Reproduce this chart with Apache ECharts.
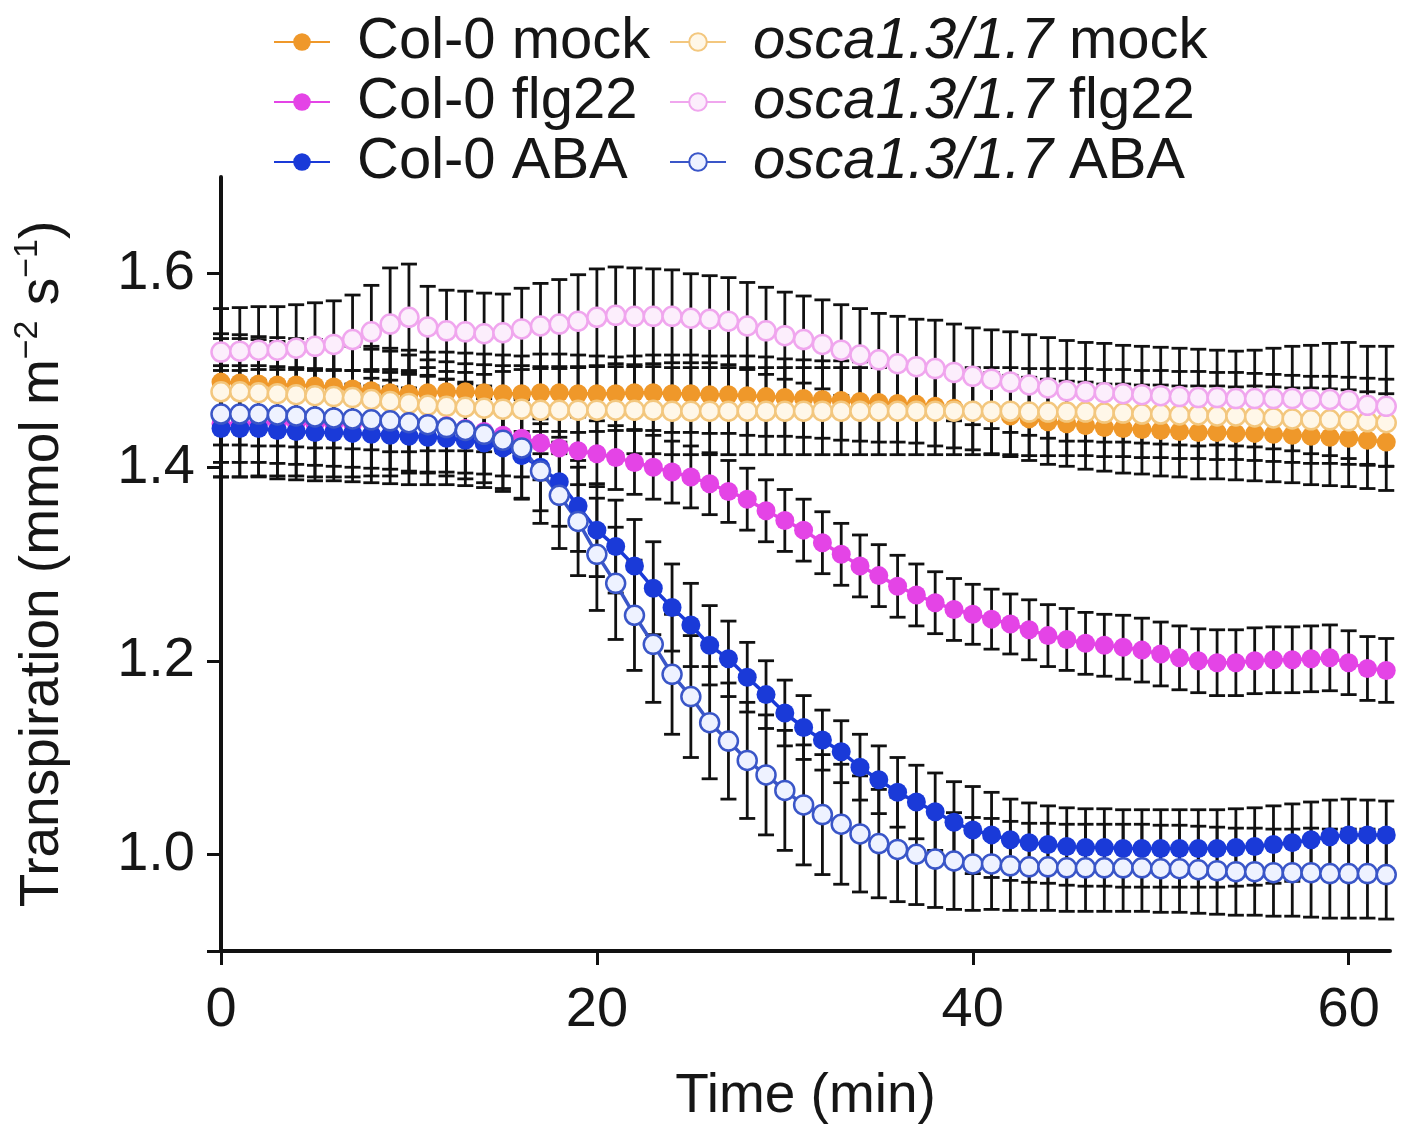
<!DOCTYPE html>
<html>
<head>
<meta charset="utf-8">
<title>Transpiration</title>
<script src="https://cdn.jsdelivr.net/npm/echarts@6/dist/echarts.min.js"></script>
<style>
  html, body { margin: 0; padding: 0; background: #fff; }
  #chart { width: 1410px; height: 1129px; }
</style>
</head>
<body>
<div id="chart"></div>
<script>
// 时间 (min)
const times = [0, 1, 2, 3, 4, 5, 6, 7, 8, 9, 10, 11, 12, 13, 14, 15, 16, 17, 18, 19, 20,
  21, 22, 23, 24, 25, 26, 27, 28, 29, 30, 31, 32, 33, 34, 35, 36, 37, 38, 39, 40,
  41, 42, 43, 44, 45, 46, 47, 48, 49, 50, 51, 52, 53, 54, 55, 56, 57, 58, 59, 60, 61, 62];

const xTicks = [0, 20, 40, 60];
const yTicks = [0.9, 1.0, 1.2, 1.4, 1.6];
const yLabels = [1.0, 1.2, 1.4, 1.6];

// Col-0 mock
const c0Mock = [1.488, 1.487, 1.486, 1.485, 1.485, 1.484, 1.483, 1.481, 1.479, 1.477,
  1.476, 1.477, 1.478, 1.478, 1.477, 1.476, 1.476, 1.477, 1.477, 1.476,
  1.476, 1.476, 1.477, 1.477, 1.476, 1.476, 1.475, 1.475, 1.474, 1.473,
  1.472, 1.471, 1.470, 1.469, 1.468, 1.467, 1.466, 1.465, 1.463, 1.461,
  1.459, 1.456, 1.453, 1.450, 1.447, 1.445, 1.443, 1.441, 1.440, 1.439,
  1.438, 1.437, 1.436, 1.436, 1.435, 1.435, 1.434, 1.433, 1.432, 1.431,
  1.430, 1.428, 1.426];
const c0MockErr = [0.050, 0.050, 0.049, 0.049, 0.048, 0.048, 0.047, 0.047, 0.046, 0.046,
  0.045, 0.042, 0.041, 0.040, 0.040, 0.040, 0.039, 0.040, 0.040, 0.040,
  0.039, 0.038, 0.038, 0.039, 0.040, 0.040, 0.040, 0.040, 0.041, 0.041,
  0.040, 0.040, 0.040, 0.041, 0.041, 0.041, 0.040, 0.040, 0.041, 0.041,
  0.041, 0.042, 0.042, 0.043, 0.044, 0.044, 0.045, 0.045, 0.046, 0.046,
  0.047, 0.047, 0.048, 0.048, 0.048, 0.049, 0.049, 0.049, 0.050, 0.050,
  0.050, 0.050, 0.050];

// osca1.3/1.7 mock
const osMock = [1.478, 1.478, 1.477, 1.476, 1.475, 1.474, 1.473, 1.472, 1.470, 1.468,
  1.466, 1.464, 1.463, 1.462, 1.461, 1.460, 1.460, 1.459, 1.459, 1.459,
  1.459, 1.459, 1.459, 1.459, 1.458, 1.458, 1.458, 1.458, 1.458, 1.458,
  1.458, 1.458, 1.458, 1.458, 1.458, 1.458, 1.458, 1.458, 1.458, 1.458,
  1.458, 1.458, 1.458, 1.457, 1.457, 1.457, 1.457, 1.456, 1.456, 1.455,
  1.455, 1.454, 1.454, 1.453, 1.453, 1.452, 1.451, 1.450, 1.449, 1.449,
  1.448, 1.447, 1.446];
const osMockErr = [0.055, 0.055, 0.055, 0.054, 0.054, 0.054, 0.053, 0.053, 0.052, 0.052,
  0.050, 0.047, 0.046, 0.045, 0.045, 0.045, 0.045, 0.045, 0.045, 0.045,
  0.045, 0.045, 0.045, 0.045, 0.045, 0.045, 0.045, 0.045, 0.045, 0.045,
  0.045, 0.045, 0.045, 0.045, 0.045, 0.045, 0.045, 0.045, 0.045, 0.045,
  0.045, 0.045, 0.045, 0.045, 0.045, 0.045, 0.045, 0.045, 0.045, 0.045,
  0.045, 0.045, 0.045, 0.045, 0.045, 0.045, 0.045, 0.045, 0.045, 0.045,
  0.045, 0.045, 0.045];

// Col-0 flg22
const c0Flg = [1.445, 1.445, 1.446, 1.446, 1.446, 1.445, 1.445, 1.445, 1.446, 1.446,
  1.446, 1.445, 1.443, 1.440, 1.437, 1.433, 1.430, 1.425, 1.420, 1.417,
  1.414, 1.410, 1.405, 1.400, 1.395, 1.390, 1.383, 1.375, 1.367, 1.355,
  1.345, 1.335, 1.322, 1.310, 1.298, 1.288, 1.277, 1.268, 1.260, 1.253,
  1.248, 1.243, 1.238, 1.232, 1.226, 1.222, 1.218, 1.216, 1.214, 1.211,
  1.207, 1.203, 1.200, 1.198, 1.198, 1.200, 1.201, 1.201, 1.202, 1.203,
  1.198, 1.192, 1.190];
const c0FlgErr = [0.055, 0.055, 0.055, 0.055, 0.055, 0.055, 0.055, 0.055, 0.055, 0.055,
  0.052, 0.050, 0.048, 0.046, 0.044, 0.042, 0.040, 0.038, 0.036, 0.035,
  0.034, 0.033, 0.033, 0.033, 0.032, 0.032, 0.032, 0.032, 0.032, 0.032,
  0.032, 0.032, 0.032, 0.032, 0.032, 0.032, 0.032, 0.032, 0.032, 0.032,
  0.031, 0.031, 0.031, 0.031, 0.032, 0.032, 0.032, 0.032, 0.033, 0.033,
  0.033, 0.033, 0.033, 0.034, 0.034, 0.034, 0.034, 0.034, 0.034, 0.034,
  0.033, 0.033, 0.033];

// osca1.3/1.7 flg22
const osFlg = [1.519, 1.520, 1.521, 1.521, 1.523, 1.525, 1.527, 1.532, 1.540, 1.548,
  1.555, 1.545, 1.541, 1.540, 1.538, 1.539, 1.543, 1.546, 1.548, 1.551,
  1.555, 1.557, 1.556, 1.556, 1.556, 1.554, 1.553, 1.551, 1.546, 1.541,
  1.536, 1.532, 1.527, 1.521, 1.516, 1.511, 1.507, 1.504, 1.502, 1.498,
  1.494, 1.491, 1.488, 1.485, 1.482, 1.479, 1.478, 1.477, 1.476, 1.475,
  1.474, 1.473, 1.472, 1.472, 1.471, 1.471, 1.471, 1.471, 1.470, 1.470,
  1.469, 1.464, 1.463];
const osFlgErr = [0.045, 0.045, 0.045, 0.045, 0.045, 0.045, 0.045, 0.046, 0.048, 0.058,
  0.055, 0.042, 0.042, 0.042, 0.042, 0.040, 0.042, 0.044, 0.046, 0.048,
  0.050, 0.050, 0.050, 0.049, 0.048, 0.046, 0.045, 0.045, 0.045, 0.045,
  0.045, 0.045, 0.046, 0.047, 0.048, 0.048, 0.049, 0.049, 0.050, 0.050,
  0.050, 0.051, 0.052, 0.052, 0.052, 0.052, 0.051, 0.051, 0.050, 0.050,
  0.050, 0.050, 0.050, 0.049, 0.049, 0.050, 0.052, 0.054, 0.056, 0.058,
  0.060, 0.061, 0.062];

// Col-0 ABA
const c0Aba = [1.440, 1.440, 1.440, 1.438, 1.437, 1.436, 1.436, 1.435, 1.434, 1.433,
  1.432, 1.431, 1.430, 1.428, 1.425, 1.420, 1.412, 1.400, 1.385, 1.360,
  1.335, 1.318, 1.298, 1.275, 1.255, 1.237, 1.216, 1.202, 1.183, 1.165,
  1.146, 1.131, 1.118, 1.106, 1.090, 1.077, 1.064, 1.054, 1.044, 1.033,
  1.025, 1.020, 1.015, 1.012, 1.010, 1.008, 1.007, 1.007, 1.006, 1.006,
  1.006, 1.006, 1.006, 1.006, 1.007, 1.008, 1.010, 1.012, 1.015, 1.018,
  1.020, 1.020, 1.020];
const c0AbaErr = [0.050, 0.050, 0.050, 0.050, 0.050, 0.050, 0.050, 0.050, 0.050, 0.050,
  0.050, 0.049, 0.048, 0.047, 0.046, 0.045, 0.045, 0.045, 0.046, 0.047,
  0.048, 0.048, 0.048, 0.048, 0.045, 0.043, 0.041, 0.039, 0.036, 0.035,
  0.034, 0.033, 0.031, 0.032, 0.034, 0.035, 0.036, 0.038, 0.040, 0.042,
  0.045, 0.044, 0.042, 0.041, 0.040, 0.040, 0.040, 0.040, 0.040, 0.040,
  0.040, 0.040, 0.040, 0.040, 0.040, 0.040, 0.040, 0.040, 0.039, 0.038,
  0.037, 0.036, 0.035];

// osca1.3/1.7 ABA
const osAba = [1.455, 1.455, 1.455, 1.454, 1.453, 1.452, 1.451, 1.450, 1.449, 1.448,
  1.446, 1.444, 1.441, 1.438, 1.434, 1.428, 1.420, 1.396, 1.371, 1.344,
  1.310, 1.280, 1.247, 1.217, 1.186, 1.163, 1.136, 1.117, 1.097, 1.082,
  1.066, 1.051, 1.041, 1.031, 1.021, 1.011, 1.005, 1.000, 0.995, 0.993,
  0.990, 0.990, 0.988, 0.987, 0.987, 0.986, 0.986, 0.986, 0.986, 0.986,
  0.985, 0.985, 0.984, 0.983, 0.982, 0.982, 0.981, 0.981, 0.981, 0.980,
  0.980, 0.980, 0.979];
const osAbaErr = [0.050, 0.050, 0.050, 0.050, 0.050, 0.050, 0.050, 0.050, 0.050, 0.050,
  0.050, 0.050, 0.050, 0.050, 0.050, 0.050, 0.052, 0.054, 0.055, 0.056,
  0.058, 0.058, 0.057, 0.060, 0.062, 0.063, 0.058, 0.060, 0.060, 0.062,
  0.062, 0.062, 0.062, 0.062, 0.060, 0.056, 0.054, 0.052, 0.050, 0.050,
  0.048, 0.047, 0.046, 0.045, 0.045, 0.045, 0.045, 0.045, 0.045, 0.045,
  0.045, 0.045, 0.045, 0.045, 0.045, 0.045, 0.045, 0.045, 0.046, 0.046,
  0.046, 0.046, 0.046];

const FONT = '"Liberation Sans", Arial, Helvetica, sans-serif';
const INK = '#161616';

// 误差线 (自定义系列)
function errorBars(key, values, errs) {
  return {
    name: key + '-sem',
    type: 'custom',
    silent: true,
    data: times.map((t, i) => [t, values[i] - errs[i], values[i] + errs[i]]),
    encode: { x: 0, y: [1, 2] },
    renderItem(params, api) {
      const lo = api.coord([api.value(0), api.value(1)]);
      const hi = api.coord([api.value(0), api.value(2)]);
      const w = 8;
      const style = { stroke: '#111', lineWidth: 2.8 };
      return {
        type: 'group',
        children: [
          { type: 'line', shape: { x1: hi[0], y1: hi[1], x2: lo[0], y2: lo[1] }, style },
          { type: 'line', shape: { x1: hi[0] - w, y1: hi[1], x2: hi[0] + w, y2: hi[1] }, style },
          { type: 'line', shape: { x1: lo[0] - w, y1: lo[1], x2: lo[0] + w, y2: lo[1] }, style },
        ],
      };
    },
  };
}

function lineSeries(name, values, color, fill) {
  const open = fill !== color;
  return {
    name,
    type: 'line',
    data: times.map((t, i) => [t, values[i]]),
    symbol: 'circle',
    symbolSize: 19,
    showAllSymbol: true,
    clip: false,
    lineStyle: { color, width: 3.5 },
    itemStyle: { color: fill, borderColor: color, borderWidth: open ? 2.5 : 0 },
  };
}

const groups = [
  ['Col-0 mock', c0Mock, c0MockErr, '#EF982A', '#EF982A'],
  ['osca1.3/1.7 mock', osMock, osMockErr, '#F3C77E', '#FFF7E8'],
  ['Col-0 flg22', c0Flg, c0FlgErr, '#E444E6', '#E444E6'],
  ['osca1.3/1.7 flg22', osFlg, osFlgErr, '#F0A6EE', '#FCEEFC'],
  ['Col-0 ABA', c0Aba, c0AbaErr, '#1A3AD8', '#1A3AD8'],
  ['osca1.3/1.7 ABA', osAba, osAbaErr, '#3A56C8', '#EEF2FF'],
];

const series = [];
groups.forEach(([name, values, errs, color, fill], i) => {
  series.push(errorBars('g' + i, values, errs));
  series.push(lineSeries(name, values, color, fill));
});

const legendText = {
  fontSize: 58,
  lineHeight: 60,
  color: INK,
  fontFamily: FONT,
  padding: [0, 0, 0, 22],
  rich: {
    i: { fontSize: 58, lineHeight: 60, color: INK, fontFamily: FONT, fontStyle: 'italic' },
    n: { fontSize: 58, lineHeight: 60, color: INK, fontFamily: FONT },
  },
};

const chart = echarts.init(document.getElementById('chart'));
const option = {
  animation: false,
  backgroundColor: '#fff',
  legend: [
    {
      data: ['Col-0 mock', 'Col-0 flg22', 'Col-0 ABA'],
      orient: 'vertical',
      left: 268,
      top: 7,
      itemWidth: 56,
      itemHeight: 22,
      itemGap: 0,
      selectedMode: false,
      textStyle: legendText,
    },
    {
      data: ['osca1.3/1.7 mock', 'osca1.3/1.7 flg22', 'osca1.3/1.7 ABA'],
      orient: 'vertical',
      left: 664,
      top: 7,
      itemWidth: 56,
      itemHeight: 22,
      itemGap: 0,
      selectedMode: false,
      formatter: (name) => '{i|osca1.3/1.7}{n| ' + name.replace('osca1.3/1.7 ', '') + '}',
      textStyle: legendText,
    },
  ],
  grid: { left: 221, right: 20, top: 177, bottom: 174, containLabel: false },
  xAxis: {
    type: 'value',
    min: 0,
    max: 62.2,
    interval: 20,
    name: 'Time (min)',
    nameLocation: 'middle',
    nameGap: 118,
    nameTextStyle: { fontSize: 55, color: INK, fontFamily: FONT },
    axisLine: { lineStyle: { color: '#111', width: 4 } },
    axisTick: { length: 14, lineStyle: { color: '#111', width: 3 }, customValues: xTicks },
    axisLabel: { fontSize: 56, color: INK, fontFamily: FONT, margin: 32, customValues: xTicks },
    splitLine: { show: false },
  },
  yAxis: {
    type: 'value',
    min: 0.9,
    max: 1.7,
    name: 'Transpiration (mmol m{sup|−2} s{sup|−1})',
    nameLocation: 'middle',
    nameGap: 146,
    nameTextStyle: {
      fontSize: 55,
      lineHeight: 64,
      color: INK,
      fontFamily: FONT,
      rich: {
        sup: { fontSize: 34, lineHeight: 30, verticalAlign: 'top', color: INK, fontFamily: FONT },
      },
    },
    axisLine: { show: true, lineStyle: { color: '#111', width: 4 } },
    axisTick: { show: true, length: 14, lineStyle: { color: '#111', width: 3 }, customValues: yTicks },
    axisLabel: {
      fontSize: 56,
      color: INK,
      fontFamily: FONT,
      margin: 26,
      customValues: yLabels,
      formatter: (v) => v.toFixed(1),
    },
    splitLine: { show: false },
  },
  series,
};
chart.setOption(option);
</script>
</body>
</html>
